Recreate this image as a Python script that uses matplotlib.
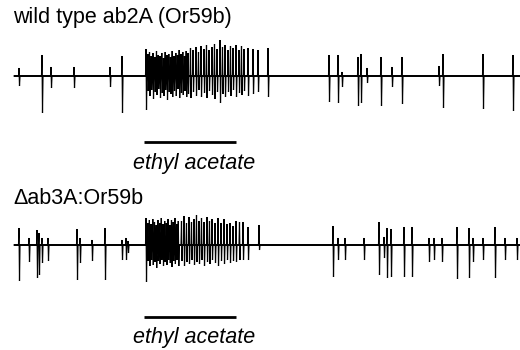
import numpy as np
import matplotlib
matplotlib.use("Agg")
from matplotlib import pyplot as plt

plt.rcParams['font.family'] = ['Liberation Sans', 'DejaVu Sans']

# recording window (ms) and odor pulse
trace_start = 140
trace_end = 5200
stim_on = 1440
stim_off = 2360
stim_label = "ethyl acetate"

# wild type ab2A (Or59b): spike time (ms), upward / downward deflection (a.u.)
wt_times = [190, 420, 510, 740, 1100, 1220,
            1460, 1478, 1495, 1512, 1530, 1548, 1565, 1582, 1600, 1618, 1635,
            1652, 1670, 1688, 1705, 1722, 1740, 1758, 1775, 1792, 1810, 1828,
            1845, 1862, 1880,
            1905, 1930, 1960, 1985, 2010, 2040, 2065, 2090, 2120, 2145, 2170,
            2200, 2225, 2250, 2280, 2305, 2330, 2360, 2390, 2415, 2440,
            2480, 2530, 2580, 2680,
            3290, 3380, 3420, 3580, 3610, 3670, 3810, 3920, 4020,
            4390, 4430, 4830, 5130]
wt_up = [8, 21, 9, 9, 9, 20,
         27, 22, 24, 20, 23, 19, 25, 21, 20, 23, 18,
         24, 21, 22, 19, 25, 20, 23, 21, 26, 22, 24,
         20, 25, 23,
         28, 26, 29, 24, 30, 27, 31, 26, 29, 32, 27,
         36, 29, 31, 26, 30, 28, 31, 26, 30, 27,
         28, 27, 26, 28,
         21, 21, 4, 19, 22, 8, 19, 9, 19,
         10, 22, 22, 21]
wt_down = [10, 37, 12, 12, 11, 37,
           34, 15, 20, 14, 23, 16, 19, 13, 22, 17, 20,
           14, 24, 16, 18, 21, 15, 20, 13, 22, 17, 19,
           15, 21, 18,
           22, 16, 20, 14, 21, 17, 22, 15, 19, 23, 16,
           27, 18, 21, 16, 20, 14, 21, 17, 19, 15,
           20, 18, 16, 21,
           26, 27, 11, 30, 27, 7, 30, 11, 28,
           10, 32, 33, 35]

# Δab3A:Or59b
mut_times = [190, 290, 370, 390, 420, 480, 770, 800, 920, 1050, 1220, 1260, 1280,
             1460, 1477, 1494, 1511, 1528, 1545, 1562, 1579, 1596, 1613, 1630,
             1647, 1664, 1681, 1698, 1715, 1732, 1749, 1766, 1783,
             1815, 1840, 1865, 1890, 1915, 1940, 1965, 1990, 2015, 2040, 2070,
             2095, 2120, 2150, 2180, 2210, 2240, 2270, 2300, 2330, 2360, 2395,
             2430, 2480, 2590,
             3330, 3380, 3450, 3640, 3790, 3840, 3870, 3910, 4040, 4120,
             4290, 4340, 4420, 4570, 4690, 4730, 4830, 4950, 5050, 5170]
mut_up = [17, 7, 15, 12, 7, 7, 16, 7, 5, 17, 5, 7, 4,
          27, 22, 25, 21, 26, 23, 20, 25, 22, 27, 21,
          24, 22, 26, 20, 25, 23, 27, 21, 24,
          24, 29, 22, 28, 23, 26, 30, 24, 27, 23, 28,
          24, 26, 22, 27, 22, 26, 21, 22, 19, 24, 23,
          23, 18, 20,
          19, 7, 7, 7, 23, 8, 17, 16, 18, 18,
          7, 7, 7, 18, 17, 7, 7, 18, 7, 7]
mut_down = [36, 17, 33, 30, 18, 16, 35, 18, 16, 35, 15, 15, 8,
            37, 16, 21, 15, 20, 17, 23, 16, 19, 15, 21,
            17, 20, 15, 18, 22, 16, 19, 15, 21,
            16, 21, 17, 19, 15, 20, 17, 19, 15, 21, 17,
            19, 15, 18, 21, 16, 19, 15, 18, 16, 17, 15,
            15, 15, 5,
            32, 15, 15, 15, 30, 13, 33, 32, 32, 32,
            17, 15, 17, 34, 33, 17, 15, 33, 15, 15]

panels = [
    ("wild type ab2A (Or59b)", wt_times, wt_up, wt_down),
    ("\u0394ab3A:Or59b", mut_times, mut_up, mut_down),
]


def spike_trace(times, up, down, start, end, w=5):
    # flat baseline with one biphasic deflection per spike
    x = [start]
    y = [0]
    for t, u, d in zip(times, up, down):
        x += [t - w, t, t + w, t + 2 * w]
        y += [0, u, -d, 0]
    x.append(end)
    y.append(0)
    return np.array(x), np.array(y)


fig = plt.figure(figsize=(5.2, 3.5), dpi=100)
H = 350.0

# pixel rows in the reference for each panel
title_y = [18, 198]
base_y = [76, 245]
bar_y = [142, 317]
label_y = [163, 337]

for i, (title, times, up, down) in enumerate(panels):
    ax = fig.add_axes([0, 1 - (base_y[i] + 40) / H, 1, 80 / H])
    ax.set_xlim(0, 5200)
    ax.set_ylim(-40, 40)
    ax.axis("off")

    x, y = spike_trace(times, up, down, trace_start, trace_end)
    ax.hlines(0, trace_start, trace_end, color="black", lw=1.4)
    ax.plot(x, y, color="black", lw=0.85, solid_joinstyle="miter")

    # odor pulse bar and label
    ax.plot([stim_on, stim_off], [base_y[i] - bar_y[i]] * 2,
            color="black", lw=2, solid_capstyle="butt", clip_on=False)
    ax.text((stim_on + stim_off) / 2 + 40, base_y[i] - label_y[i], stim_label,
            ha="center", va="center", fontsize=15.5, style="italic",
            clip_on=False)

    fig.text(13 / 520, 1 - title_y[i] / H, title, ha="left", va="center",
             fontsize=15.5)

fig.savefig("out.png", dpi=100)
